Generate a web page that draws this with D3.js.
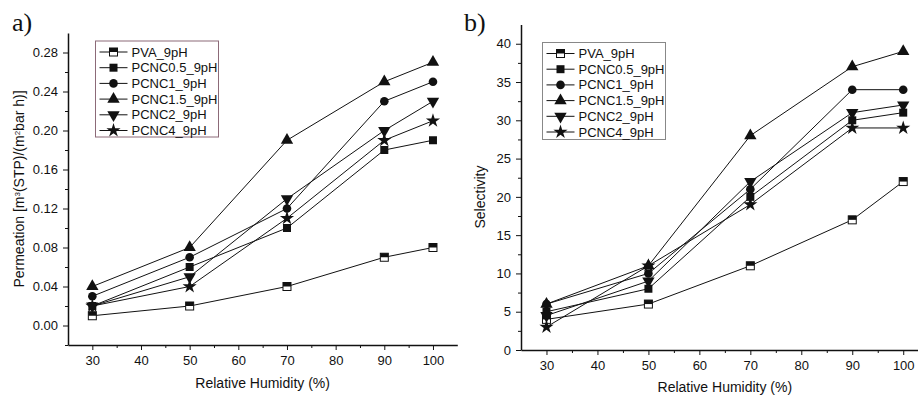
<!DOCTYPE html>
<html>
<head>
<meta charset="utf-8">
<script src="https://cdn.jsdelivr.net/npm/d3@7"></script>
<style>
  body { margin: 0; background: #fff; }
  svg { display: block; font-family: "Liberation Sans", Arial, sans-serif; }
  .axis path, .axis line { stroke: #111; }
</style>
</head>
<body>
<svg id="chart" width="918" height="398"></svg>
<script>
// humidity levels (x values)
const humidity = [30, 50, 70, 90, 100];
const seriesNames = ["PVA_9pH", "PCNC0.5_9pH", "PCNC1_9pH", "PCNC1.5_9pH", "PCNC2_9pH", "PCNC4_9pH"];
const markerTypes = ["halfSquare", "square", "circle", "triangle", "triangleDown", "star"];

// panel a - permeation
const permPVA    = [0.01, 0.02, 0.04, 0.07, 0.08];
const permPCNC05 = [0.02, 0.06, 0.10, 0.18, 0.19];
const permPCNC1  = [0.03, 0.07, 0.12, 0.23, 0.25];
const permPCNC15 = [0.04, 0.08, 0.19, 0.25, 0.27];
const permPCNC2  = [0.02, 0.05, 0.13, 0.20, 0.23];
const permPCNC4  = [0.02, 0.04, 0.11, 0.19, 0.21];

// panel b - selectivity
const selPVA    = [4, 6, 11, 17, 22];
const selPCNC05 = [5, 8, 20, 30, 31];
const selPCNC1  = [6, 10, 21, 34, 34];
const selPCNC15 = [6, 11, 28, 37, 39];
const selPCNC2  = [4.5, 9, 22, 31, 32];
const selPCNC4  = [3, 11, 19, 29, 29];

const xTicks = [30, 40, 50, 60, 70, 80, 90, 100];
const permTicks = [0.00, 0.04, 0.08, 0.12, 0.16, 0.20, 0.24, 0.28];
const selTicks = [0, 5, 10, 15, 20, 25, 30, 35, 40];

const svg = d3.select("#chart");

function drawMarker(g, type, x, y) {
    if (type === "halfSquare") {
        const s = 8;
        g.append("rect").attr("x", x - s / 2).attr("y", y - s / 2)
            .attr("width", s).attr("height", s)
            .attr("fill", "#fff").attr("stroke", "#111").attr("stroke-width", 1);
        g.append("rect").attr("x", x - s / 2).attr("y", y - s / 2)
            .attr("width", s).attr("height", s / 2)
            .attr("fill", "#111");
        return;
    }
    let sym, size, rot = 0;
    if (type === "square") { sym = d3.symbolSquare; size = 64; }
    else if (type === "circle") { sym = d3.symbolCircle; size = 58; }
    else if (type === "triangle") { sym = d3.symbolTriangle; size = 66; }
    else if (type === "triangleDown") { sym = d3.symbolTriangle; size = 66; rot = 180; }
    else { sym = d3.symbolStar; size = 62; }
    g.append("path")
        .attr("d", d3.symbol().type(sym).size(size)())
        .attr("transform", `translate(${x},${y}) rotate(${rot})`)
        .attr("fill", "#111");
}

function drawPanel(cfg) {
    const x = d3.scaleLinear().domain([25, 105]).range(cfg.xRange);
    const y = d3.scaleLinear().domain(cfg.yDomain).range(cfg.yRange);
    const g = svg.append("g");

    // minor ticks
    const xMinor = d3.range(35, 100, 10);
    g.append("g").attr("class", "axis")
        .attr("transform", `translate(0,${cfg.yRange[0]})`)
        .call(d3.axisBottom(x).tickValues(xMinor).tickSize(3).tickFormat(""))
        .call(a => a.select(".domain").remove());
    g.append("g").attr("class", "axis")
        .attr("transform", `translate(${cfg.xRange[0]},0)`)
        .call(d3.axisLeft(y).tickValues(cfg.yMinor).tickSize(3).tickFormat(""))
        .call(a => a.select(".domain").remove());

    // major axes
    const xAxis = g.append("g").attr("class", "axis")
        .attr("transform", `translate(0,${cfg.yRange[0]})`)
        .call(d3.axisBottom(x).tickValues(xTicks).tickSize(5).tickSizeOuter(0).tickPadding(6));
    xAxis.selectAll("text").attr("font-size", 13).attr("fill", "#111")
        .attr("font-family", "Liberation Sans, Arial, sans-serif");
    xAxis.select(".domain").attr("stroke-width", 1.5);

    const yAxis = g.append("g").attr("class", "axis")
        .attr("transform", `translate(${cfg.xRange[0]},0)`)
        .call(d3.axisLeft(y).tickValues(cfg.yTicks).tickSize(5).tickSizeOuter(0).tickPadding(5)
            .tickFormat(cfg.yFormat));
    yAxis.selectAll("text").attr("font-size", 13).attr("fill", "#111")
        .attr("font-family", "Liberation Sans, Arial, sans-serif");
    yAxis.select(".domain").attr("stroke-width", 1.5);

    // titles
    g.append("text")
        .attr("x", (cfg.xRange[0] + x(105)) / 2)
        .attr("y", cfg.xTitleY)
        .attr("text-anchor", "middle")
        .attr("font-size", 14).attr("fill", "#111")
        .text("Relative Humidity (%)");

    const yt = g.append("text")
        .attr("transform", `translate(${cfg.yTitleX},${cfg.yTitleY}) rotate(-90)`)
        .attr("text-anchor", "middle")
        .attr("font-size", 14).attr("fill", "#111");
    cfg.yTitle.forEach(part => {
        const t = yt.append("tspan").text(part.t);
        if (part.sup) t.attr("font-size", 8).attr("baseline-shift", "super");
    });

    g.append("text")
        .attr("x", cfg.labelX).attr("y", 31)
        .attr("font-family", "Liberation Serif, Times New Roman, serif")
        .attr("font-size", 26).attr("fill", "#111")
        .text(cfg.label);

    // lines + markers
    const line = d3.line().x((d, i) => x(humidity[i])).y(d => y(d));
    cfg.series.forEach(vals => {
        g.append("path").datum(vals)
            .attr("d", line)
            .attr("fill", "none")
            .attr("stroke", "#111")
            .attr("stroke-width", 1);
    });
    cfg.series.forEach((vals, k) => {
        const mg = g.append("g");
        vals.forEach((v, i) => drawMarker(mg, markerTypes[k], x(humidity[i]), y(v)));
    });

    // legend
    const lg = g.append("g");
    lg.append("rect")
        .attr("x", cfg.legend.x).attr("y", cfg.legend.y)
        .attr("width", cfg.legend.w).attr("height", cfg.legend.h)
        .attr("fill", "#fff").attr("stroke", cfg.legend.stroke).attr("stroke-width", 1);
    seriesNames.forEach((name, k) => {
        const yy = cfg.legend.y + 11 + k * 15.7;
        const x0 = cfg.legend.x + 4;
        lg.append("line").attr("x1", x0).attr("x2", x0 + 28)
            .attr("y1", yy).attr("y2", yy)
            .attr("stroke", "#111").attr("stroke-width", 1);
        drawMarker(lg, markerTypes[k], x0 + 14, yy);
        lg.append("text").attr("x", x0 + 32).attr("y", yy + 4.5)
            .attr("font-size", 13).attr("fill", "#111").text(name);
    });
}

drawPanel({
    xRange: [68, 457.3],
    yDomain: [-0.02, 0.30],
    yRange: [345, 33],
    yTicks: permTicks,
    yMinor: d3.range(-0.02, 0.30, 0.04),
    yFormat: d3.format(".2f"),
    yTitle: [{t: "Permeation [m"}, {t: "3", sup: true}, {t: "(STP)/(m"}, {t: "2", sup: true}, {t: "bar h)]"}],
    yTitleX: 24, yTitleY: 189,
    xTitleY: 388,
    label: "a)", labelX: 12,
    series: [permPVA, permPCNC05, permPCNC1, permPCNC15, permPCNC2, permPCNC4],
    legend: {x: 95.5, y: 41, w: 123, h: 96, stroke: "#8c6a78"}
});

drawPanel({
    xRange: [521, 928.7],
    yDomain: [0, 42.5],
    yRange: [350, 24.6],
    yTicks: selTicks,
    yMinor: d3.range(2.5, 42.5, 5),
    yFormat: d3.format("d"),
    yTitle: [{t: "Selectivity"}],
    yTitleX: 485, yTitleY: 197,
    xTitleY: 392,
    label: "b)", labelX: 464,
    series: [selPVA, selPCNC05, selPCNC1, selPCNC15, selPCNC2, selPCNC4],
    legend: {x: 542.5, y: 42.5, w: 123, h: 97, stroke: "#888"}
});
</script>
</body>
</html>
